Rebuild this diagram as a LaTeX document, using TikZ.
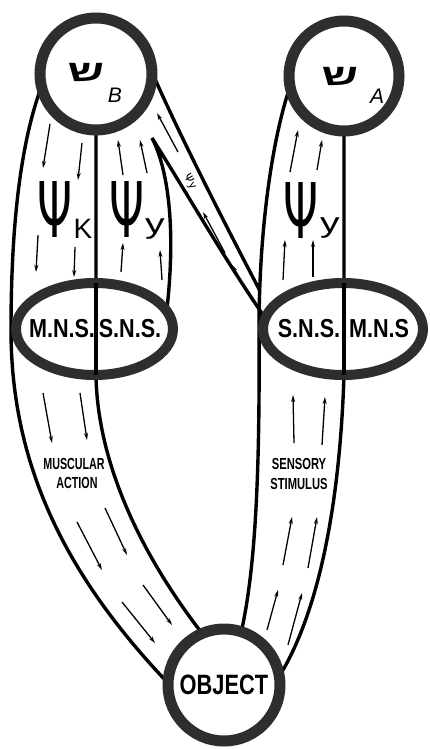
\documentclass[tikz,border=0pt]{standalone}
\usepackage{fontspec}
\usepackage{graphicx}
\setmainfont{Liberation Sans}
\newfontfamily\hebfont[Script=Hebrew]{Liberation Sans}
\newfontfamily\psifont{DejaVu Sans}
\TeXXeTstate=1
\usetikzlibrary{shapes.geometric,arrows.meta}
\pgfdeclarelayer{bg}
\pgfsetlayers{bg,main}
\newcommand\mypsi{{\psifont\fontsize{60}{60}\selectfont\scalebox{0.74}[1.28]{Ψ}}}
\begin{document}
\begin{tikzpicture}[x=1pt,y=-1pt,
  ring/.style={circle, draw=black!82, line width=11pt, fill=white, inner sep=0pt, outer sep=0pt},
  ringE/.style={ellipse, draw=black!82, line width=10pt, fill=white, inner sep=0pt, outer sep=0pt},
  band/.style={line width=3.4pt, draw=black},
  flow/.style={line width=1.3pt, draw=black, -{Stealth[length=7pt,width=4pt]}},
  big/.style={font=\fontsize{26}{26}\selectfont\bfseries, inner sep=0pt},
  lab/.style={font=\fontsize{16}{16}\selectfont\bfseries, inner sep=0pt},
  psisub/.style={font=\fontsize{28}{28}\selectfont, inner sep=0pt},
]
\useasboundingbox (0,0) rectangle (430,749);

% main nodes
\node[ring, minimum size=112pt] (B) at (96,74) {};
\node[ring, minimum size=110pt] (A) at (344,76) {};
\node[ringE, minimum width=157pt, minimum height=92pt] (L) at (94.5,329) {};
\node[ringE, minimum width=160pt, minimum height=92pt] (R) at (343,329) {};
\node[ring, minimum size=112pt, font=\fontsize{28}{28}\selectfont\bfseries] (O) at (224,685) {\scalebox{0.78}[1]{OBJECT}};

% band outlines behind the rings
\begin{pgfonlayer}{bg}
\coordinate (lw) at (11,330);
\coordinate (rw) at (259,330);
\coordinate (tip) at (152,138);
\coordinate (vj) at (259.5,290);
\draw[band] (B.193) .. controls (18,150) and (11,240) .. (lw)
   .. controls (11,470) and (70,580) .. (O.178);
\draw[band] (B.south) -- (B.south |- L.south)
   .. controls (97,450) and (130,540) .. (O.113);
\draw[band] (L.14) .. controls (177,220) and (166,165) .. (tip)
   .. controls (185,190) and (225,260) .. (R.172);
\draw[band] (B.2) .. controls (175,125) and (215,205) .. (vj);
\draw[band] (A.191) .. controls (272,140) and (259,230) .. (rw)
   .. controls (260,480) and (255,570) .. (O.72);
\draw[band] (A.south) -- (A.south |- R.south)
   .. controls (340,500) and (320,610) .. (O.9);
\end{pgfonlayer}

% dividers inside the ellipses
\draw[band] (B.south |- L.north) -- (B.south |- L.south);
\draw[band] (A.south |- R.north) -- (A.south |- R.south);

% ellipse texts
\node[big] (lm) at (62,329) {\scalebox{0.83}[1]{M.N.S.}};
\node[big] (ls) at (130,329) {\scalebox{0.83}[1]{S.N.S.}};
\node[big] (rs) at (309,329) {\scalebox{0.83}[1]{S.N.S.}};
\node[big] (rm) at (379,329) {\scalebox{0.83}[1]{M.N.S}};

% circle texts
\node[inner sep=0pt, font=\hebfont\bfseries\fontsize{30}{30}\selectfont] (shB) at (86,72) {\scalebox{1.5}[1]{\beginR ש\endR}};
\node[inner sep=0pt, font=\itshape\fontsize{21}{21}\selectfont] (subB) at (115,95) {B};
\node[inner sep=0pt, font=\hebfont\bfseries\fontsize{30}{30}\selectfont] (shA) at (340,76) {\scalebox{1.5}[1]{\beginR ש\endR}};
\node[inner sep=0pt, font=\itshape\fontsize{21}{21}\selectfont] (subA) at (377,96) {A};

% psi labels
\node[inner sep=0pt] (psi1) at (55,210) {\mypsi};
\node[psisub] (k1) at (83,229) {K};
\node[inner sep=0pt] (psi2) at (127,210) {\mypsi};
\node[psisub] (y1) at (155,229) {\scalebox{1.4}[1]{y}};
\node[inner sep=0pt] (psi3) at (301,211) {\mypsi};
\node[psisub] (y2) at (330,228) {\scalebox{1.4}[1]{y}};
\node[rotate=-60, inner sep=0pt, font=\psifont\fontsize{11}{11}\selectfont] (psid) at (190,182) {Ψy};

% band texts
\node[lab] (mus) at (74,464) {\scalebox{0.67}[1]{MUSCULAR}};
\node[lab] (act) at (77,482.5) {\scalebox{0.67}[1]{ACTION}};
\node[lab] (sen) at (299,464) {\scalebox{0.7}[1]{SENSORY}};
\node[lab] (sti) at (299,483.5) {\scalebox{0.7}[1]{STIMULUS}};

% flow arrows
\draw[flow] (50,124) -- (43,168);
\draw[flow] (82,143) -- (78,180);
\draw[flow] (38,235) -- (36,272);
\draw[flow] (75,247) -- (74,277);
\draw[flow] (123,175) -- (118,140);
\draw[flow] (147,173) -- (140,140);
\draw[flow] (121,272) -- (123,243);
\draw[flow] (162,280) -- (160,250);
\draw[flow] (178,152) -- (157,113);
\draw[flow] (225,253) -- (203,212);
\draw[flow] (253,302) -- (232,265);
\draw[flow] (290,172) -- (298,130);
\draw[flow] (317,170) -- (322,140);
\draw[flow] (283,280) -- (285,240);
\draw[flow] (313,277) -- (313,240);
\draw[flow] (43,393) -- (52,443);
\draw[flow] (80,393) -- (87,440);
\draw[flow] (77,522) -- (102,570);
\draw[flow] (105,508) -- (127,555);
\draw[flow] (122,602) -- (155,643);
\draw[flow] (143,585) -- (172,625);
\draw[flow] (294,443) -- (293,395);
\draw[flow] (322,445) -- (325,397);
\draw[flow] (283,565) -- (292,517);
\draw[flow] (308,568) -- (317,517);
\draw[flow] (267,630) -- (278,590);
\draw[flow] (288,645) -- (302,593);
\end{tikzpicture}
\end{document}
